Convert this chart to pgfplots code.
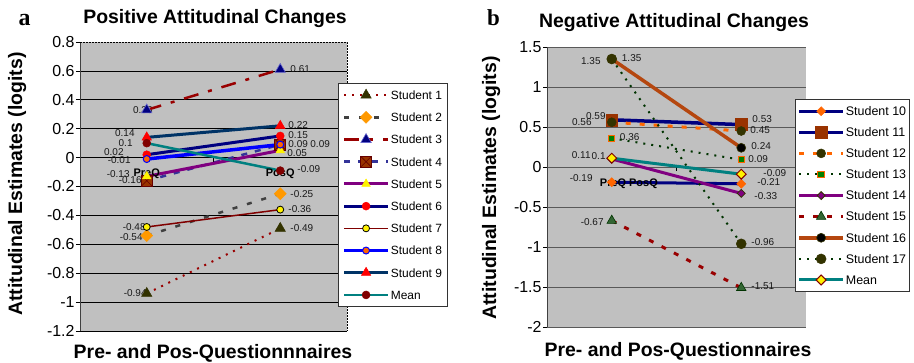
\documentclass[border=0pt]{standalone}
\usepackage{pgfplots}
\pgfplotsset{compat=1.18}
\usepackage{fontspec}
\setmainfont{Liberation Sans}
\newfontfamily\timesfont{Liberation Serif}

\definecolor{bg}{HTML}{C0C0C0}
\definecolor{c990000}{HTML}{990000}
\definecolor{c800000}{HTML}{800000}
\definecolor{c333300}{HTML}{333300}
\definecolor{c404040}{HTML}{404040}
\definecolor{cFF9900}{HTML}{FF9900}
\definecolor{c000080}{HTML}{000080}
\definecolor{c6666CC}{HTML}{6666CC}
\definecolor{c333399}{HTML}{333399}
\definecolor{c993300}{HTML}{993300}
\definecolor{c660000}{HTML}{660000}
\definecolor{c800080}{HTML}{800080}
\definecolor{cFF6600}{HTML}{FF6600}
\definecolor{c003366}{HTML}{003366}
\definecolor{c008080}{HTML}{008080}
\definecolor{c003300}{HTML}{003300}
\definecolor{c008000}{HTML}{008000}
\definecolor{c336633}{HTML}{336633}
\definecolor{cB5470F}{HTML}{B5470F}
\definecolor{axisgray}{HTML}{404040}

\pgfdeclareplotmark{dia*}{%
  \pgfpathmoveto{\pgfqpoint{0pt}{\pgfplotmarksize}}%
  \pgfpathlineto{\pgfqpoint{\pgfplotmarksize}{0pt}}%
  \pgfpathlineto{\pgfqpoint{0pt}{-\pgfplotmarksize}}%
  \pgfpathlineto{\pgfqpoint{-\pgfplotmarksize}{0pt}}%
  \pgfpathclose
  \pgfusepathqfillstroke}
\pgfdeclareplotmark{sqx}{%
  \pgfpathrectangle{\pgfqpoint{-\pgfplotmarksize}{-\pgfplotmarksize}}{\pgfqpoint{2\pgfplotmarksize}{2\pgfplotmarksize}}%
  \pgfusepathqfillstroke
  \pgfpathmoveto{\pgfqpoint{-\pgfplotmarksize}{-\pgfplotmarksize}}%
  \pgfpathlineto{\pgfqpoint{\pgfplotmarksize}{\pgfplotmarksize}}%
  \pgfpathmoveto{\pgfqpoint{-\pgfplotmarksize}{\pgfplotmarksize}}%
  \pgfpathlineto{\pgfqpoint{\pgfplotmarksize}{-\pgfplotmarksize}}%
  \pgfusepathqstroke}

\tikzset{
  lbl/.style={font=\fontsize{10}{12}\selectfont, inner sep=0pt, text=black!90},
  catlbl/.style={font=\fontsize{11}{13}\selectfont\bfseries, inner sep=0pt},
}
\pgfplotsset{
  basechart/.style={
    scale only axis,
    xmin=-0.5, xmax=1.5, xtick=\empty,
    axis x line=none, axis y line*=left,
    y axis line style={draw=axisgray, line width=1bp, -},
    tick align=outside, major tick length=4bp,
    ytick style={draw=black, line width=0.8bp},
    yticklabel style={font=\fontsize{16}{18}\selectfont, xshift=2bp},
    /pgf/number format/assume math mode=true,
    axis background/.style={fill=bg},
    ymajorgrids,
    clip=false,
    legend cell align=left,
    legend image code/.code={\draw[mark repeat=2,mark phase=2] plot coordinates {(0bp,0bp) (22bp,0bp) (44bp,0bp)};},
  },
}

\begin{document}
\begin{tikzpicture}
\path[use as bounding box] (0bp,0bp) rectangle (914bp,-363bp);

% ---------------- Left chart ----------------
\begin{axis}[basechart,
  at={(80bp,-331bp)}, anchor=south west,
  width=267bp, height=289bp,
  ymin=-1.2, ymax=0.8,
  ytick={-1.2,-1,-0.8,-0.6,-0.4,-0.2,0,0.2,0.4,0.6},
  extra y ticks={0.8}, extra y tick style={grid=none},
  grid style={black, line width=0.8bp},
  legend style={at={(0.966,0.858)}, anchor=north west, draw=black!80, line width=0.8bp, fill=white,
    font=\fontsize{12}{14}\selectfont, inner xsep=4bp, inner ysep=5bp, row sep=8.8bp,
    nodes={inner sep=1bp, text height=10bp, text depth=1.4bp}},
]
% data labels (pre)
\node[lbl, anchor=east] at (axis cs:0,0.33) [xshift=6bp] {0.33};
\node[lbl, anchor=east] at (axis cs:0,0.17) [xshift=-12bp] {0.14};
\node[lbl, anchor=east] at (axis cs:0,0.10) [xshift=-14bp] {0.1};
\node[lbl, anchor=east] at (axis cs:0,0.04) [xshift=-23bp] {0.02};
\node[lbl, anchor=east] at (axis cs:0,-0.017) [xshift=-16bp] {-0.01};
\node[lbl, anchor=east] at (axis cs:0,-0.113) [xshift=-17bp] {-0.13};
\node[lbl, anchor=east] at (axis cs:0,-0.155) [xshift=-5bp] {-0.16};
\node[lbl, anchor=east] at (axis cs:0,-0.48) [xshift=-1bp] {-0.48};
\node[lbl, anchor=east] at (axis cs:0,-0.55) [xshift=-4bp] {-0.54};
\node[lbl, anchor=east] at (axis cs:0,-0.937) [xshift=0bp] {-0.94};
% data labels (post)
\node[lbl, anchor=west] at (axis cs:1,0.61) [xshift=10bp] {0.61};
\node[lbl, anchor=west] at (axis cs:1,0.225) [xshift=8bp] {0.22};
\node[lbl, anchor=west] at (axis cs:1,0.156) [xshift=8bp] {0.15};
\node[lbl, anchor=west] at (axis cs:1,0.094) [xshift=8bp] {0.09};
\node[lbl, anchor=west] at (axis cs:1,0.094) [xshift=30bp] {0.09};
\node[lbl, anchor=west] at (axis cs:1,0.032) [xshift=7bp] {0.05};
\node[lbl, anchor=west] at (axis cs:1,-0.079) [xshift=17bp] {-0.09};
\node[lbl, anchor=west] at (axis cs:1,-0.252) [xshift=10bp] {-0.25};
\node[lbl, anchor=west] at (axis cs:1,-0.356) [xshift=8bp] {-0.36};
\node[lbl, anchor=west] at (axis cs:1,-0.487) [xshift=10bp] {-0.49};
\draw[black, line width=0.8bp] (axis cs:0.5,0) -- ++(0bp,-4bp);

\addplot[color=c990000, line width=2bp, dash pattern=on 2bp off 6bp, mark=triangle*, mark size=6,
  mark options={solid, fill=c333300, draw=c333300, line width=0.5bp}] coordinates {(0,-0.94) (1,-0.49)};
\addlegendentry{Student 1}
\addplot[color=c404040, line width=2.5bp, dash pattern=on 5bp off 10bp, mark=dia*, mark size=6,
  mark options={solid, fill=cFF9900, draw=cFF9900, line width=0.5bp}] coordinates {(0,-0.54) (1,-0.25)};
\addlegendentry{Student 2}
\addplot[color=c990000, line width=2.5bp, dash pattern=on 15bp off 10bp on 4bp off 10bp, mark=triangle*, mark size=6,
  mark options={solid, fill=c000080, draw=c6666CC, line width=0.6bp}] coordinates {(0,0.33) (1,0.61)};
\addlegendentry{Student 3}
\addplot[color=c333399, line width=2.5bp, dash pattern=on 6bp off 8bp, mark=sqx, mark size=5.5,
  mark options={solid, fill=c993300, draw=c660000, line width=0.6bp}] coordinates {(0,-0.16) (1,0.09)};
\addlegendentry{Student 4}
\addplot[color=c800080, line width=3bp, mark=triangle*, mark size=5,
  mark options={fill=yellow, draw=yellow, line width=0.5bp}] coordinates {(0,-0.13) (1,0.05)};
\addlegendentry{Student 5}
\addplot[color=c000080, line width=3bp, mark=*, mark size=4,
  mark options={fill=red, draw=red, line width=0.5bp}] coordinates {(0,0.02) (1,0.15)};
\addlegendentry{Student 6}
\addplot[color=c800000, line width=1.5bp, mark=*, mark size=3.5,
  mark options={fill=yellow, draw=black, line width=0.8bp}] coordinates {(0,-0.48) (1,-0.36)};
\addlegendentry{Student 7}
\addplot[color=blue, line width=3.5bp, mark=*, mark size=3.5,
  mark options={fill=cFF6600, draw=blue, line width=1bp}] coordinates {(0,-0.01) (1,0.09)};
\addlegendentry{Student 8}
\addplot[color=c003366, line width=3bp, mark=triangle*, mark size=5.5,
  mark options={fill=red, draw=red, line width=0.5bp}] coordinates {(0,0.14) (1,0.22)};
\addlegendentry{Student 9}
\addplot[color=c008080, line width=2.5bp, mark=*, mark size=4,
  mark options={fill=c800000, draw=c800000, line width=0.5bp}] coordinates {(0,0.1) (1,-0.09)};
\addlegendentry{Mean}

% category labels on top
\node[catlbl, anchor=north] at (axis cs:0,0) [yshift=-11bp] {PreQ};
\node[catlbl, anchor=north] at (axis cs:1,0) [yshift=-11bp] {PosQ};
\draw[black, line width=0.8bp, dash pattern=on 1.5bp off 1.5bp] (rel axis cs:0,1) -- (rel axis cs:1,1) -- (rel axis cs:1,0);
\end{axis}

% ---------------- Right chart ----------------
\begin{axis}[basechart,
  at={(547bp,-327bp)}, anchor=south west,
  width=259bp, height=280bp,
  ymin=-2, ymax=1.5,
  ytick={-2,-1.5,-1,-0.5,0,0.5,1,1.5},
  grid style={black!65, line width=1bp},
  legend style={at={(0.9575,0.814)}, anchor=north west, draw=black!80, line width=0.8bp, fill=white,
    font=\fontsize{12.5}{14}\selectfont, inner xsep=2bp, inner ysep=5bp, row sep=7.7bp,
    nodes={inner sep=1bp, text height=10bp, text depth=1.4bp}},
]
% data labels (pre)
\node[lbl, anchor=east] at (axis cs:0,1.325) [xshift=-11bp] {1.35};
\node[lbl, anchor=west] at (axis cs:0,1.36) [xshift=10bp] {1.35};
\node[lbl, anchor=east] at (axis cs:0,0.5625) [xshift=-20bp] {0.56};
\node[lbl, anchor=east] at (axis cs:0,0.64) [xshift=-6bp] {0.59};
\node[lbl, anchor=west] at (axis cs:0,0.375) [xshift=8bp] {0.36};
\node[lbl, anchor=east] at (axis cs:0,0.15) [xshift=-21bp] {0.11};
\node[lbl, anchor=east] at (axis cs:0,0.1375) [xshift=-6bp] {0.1};
\node[lbl, anchor=east] at (axis cs:0,-0.1375) [xshift=-19bp] {-0.19};
\node[lbl, anchor=east] at (axis cs:0,-0.6875) [xshift=-8bp] {-0.67};
% data labels (post)
\node[lbl, anchor=west] at (axis cs:1,0.6) [xshift=11bp] {0.53};
\node[lbl, anchor=west] at (axis cs:1,0.4625) [xshift=9bp] {0.45};
\node[lbl, anchor=west] at (axis cs:1,0.2625) [xshift=10bp] {0.24};
\node[lbl, anchor=west] at (axis cs:1,0.1) [xshift=7bp] {0.09};
\node[lbl, anchor=west] at (axis cs:1,-0.075) [xshift=22bp] {-0.09};
\node[lbl, anchor=west] at (axis cs:1,-0.1875) [xshift=16bp] {-0.21};
\node[lbl, anchor=west] at (axis cs:1,-0.3625) [xshift=13bp] {-0.33};
\node[lbl, anchor=west] at (axis cs:1,-0.9375) [xshift=10bp] {-0.96};
\node[lbl, anchor=west] at (axis cs:1,-1.4875) [xshift=10bp] {-1.51};
\draw[black, line width=0.8bp] (axis cs:0.5,0) -- ++(0bp,-4bp);

\addplot[color=c000080, line width=3bp, mark=dia*, mark size=4.5,
  mark options={fill=cFF6600, draw=cFF6600, line width=0.5bp}] coordinates {(0,-0.19) (1,-0.21)};
\addlegendentry{Student 10}
\addplot[color=c000080, line width=3.5bp, mark=square*, mark size=6,
  mark options={fill=c993300, draw=c993300, line width=0.5bp}] coordinates {(0,0.59) (1,0.53)};
\addlegendentry{Student 11}
\addplot[color=cFF6600, line width=3bp, dash pattern=on 5bp off 9bp, mark=*, mark size=4.5,
  mark options={solid, fill=c333300, draw=c333300, line width=0.5bp}] coordinates {(0,0.56) (1,0.45)};
\addlegendentry{Student 12}
\addplot[color=c003300, line width=2bp, dash pattern=on 2bp off 6bp, mark=square*, mark size=3.2,
  mark options={solid, fill=c008000, draw=cFF6600, line width=1bp}] coordinates {(0,0.36) (1,0.09)};
\addlegendentry{Student 13}
\addplot[color=c800080, line width=3bp, mark=dia*, mark size=4,
  mark options={fill=c800080, draw=c333300, line width=0.8bp}] coordinates {(0,0.1) (1,-0.33)};
\addlegendentry{Student 14}
\addplot[color=c990000, line width=3bp, dash pattern=on 5bp off 9bp, mark=triangle*, mark size=5.5,
  mark options={solid, fill=c336633, draw=c003300, line width=0.6bp}] coordinates {(0,-0.67) (1,-1.51)};
\addlegendentry{Student 15}
\addplot[color=cB5470F, line width=3.5bp, mark=*, mark size=4.5,
  mark options={fill=black, draw=c333300, line width=0.6bp}] coordinates {(0,1.35) (1,0.24)};
\addlegendentry{Student 16}
\addplot[color=c003300, line width=2bp, dash pattern=on 2bp off 6bp, mark=*, mark size=5,
  mark options={solid, fill=c333300, draw=c333300, line width=0.5bp}] coordinates {(0,1.35) (1,-0.96)};
\addlegendentry{Student 17}
\addplot[color=c008080, line width=3bp, mark=dia*, mark size=5,
  mark options={fill=yellow, draw=c800000, line width=1bp}] coordinates {(0,0.11) (1,-0.09)};
\addlegendentry{Mean}

% category labels on top
\node[catlbl, anchor=north west] at (axis cs:0,0) [xshift=-12bp, yshift=-12bp] {PreQ PosQ};
\end{axis}

% ---------------- Titles and axis labels ----------------
\node[anchor=base, font=\timesfont\bfseries\fontsize{24}{26}\selectfont, inner sep=0pt] at (24.5bp,-25bp) {a};
\node[anchor=base, font=\timesfont\bfseries\fontsize{23}{25}\selectfont, inner sep=0pt] at (493.5bp,-25bp) {b};
\node[anchor=base, font=\bfseries\fontsize{19.5}{22}\selectfont, inner sep=0pt] at (215bp,-23bp) {Positive Attitudinal Changes};
\node[anchor=base, font=\bfseries\fontsize{19.5}{22}\selectfont, inner sep=0pt] at (674bp,-27bp) {Negative Attitudinal Changes};
\node[anchor=base, font=\bfseries\fontsize{19.5}{22}\selectfont, inner sep=0pt] at (213bp,-358bp) {Pre- and Pos-Questionnnaires};
\node[anchor=base, font=\bfseries\fontsize{19.5}{22}\selectfont, inner sep=0pt] at (678bp,-356bp) {Pre- and Pos-Questionnaires};
\node[anchor=base, rotate=90, font=\bfseries\fontsize{19.5}{22}\selectfont, inner sep=0pt] at (22bp,-184bp) {Attitudinal Estimates (logits)};
\node[anchor=base, rotate=90, font=\bfseries\fontsize{19.5}{22}\selectfont, inner sep=0pt] at (496bp,-188bp) {Attitudinal Estimates (logits)};
\end{tikzpicture}
\end{document}
